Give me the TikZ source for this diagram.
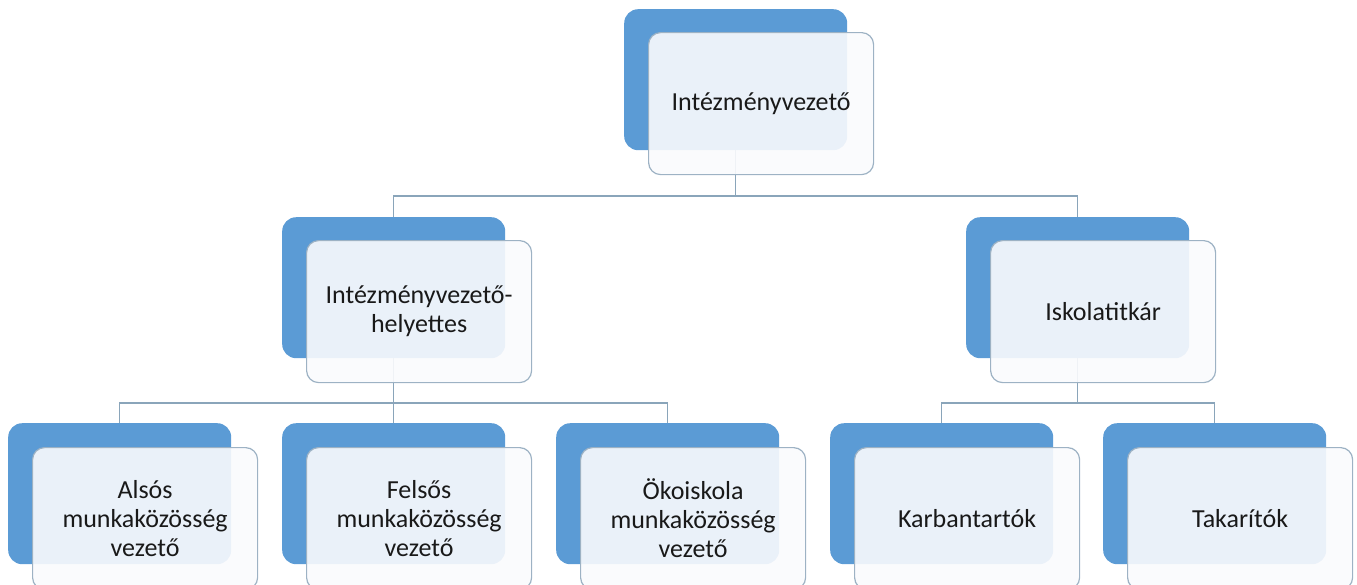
\documentclass[tikz,border=0pt]{standalone}
\usepackage{fontspec}
\setmainfont{Carlito}
\definecolor{backblue}{HTML}{5B9BD5}
\definecolor{frontfill}{RGB}{250,251,253}
\definecolor{frontline}{HTML}{9DB2C4}
\definecolor{connc}{HTML}{8AA5BA}
\tikzset{
  backbox/.style={fill=backblue, draw=none, rounded corners=14pt, minimum width=223pt, minimum height=141pt, anchor=north west, inner sep=0pt},
  frontbox/.style={fill=frontfill, fill opacity=0.9, text opacity=1, draw=frontline, line width=1.2pt, rounded corners=12pt, minimum width=225pt, minimum height=142pt, anchor=north west, inner sep=0pt, align=center, font=\fontsize{26}{29}\selectfont, text=black!90},
  connline/.style={draw=connc, line width=1.5pt}
}
\begin{document}
\begin{tikzpicture}[x=1pt,y=-1pt]
\useasboundingbox (0,0) rectangle (1357,584);
% back boxes
\node[backbox] (t0) at (624,9) {};
\node[backbox] (m1) at (282,217) {};
\node[backbox] (m2) at (966,217) {};
\node[backbox] (l1) at (8,423) {};
\node[backbox] (l2) at (282,423) {};
\node[backbox] (l3) at (556,423) {};
\node[backbox] (r1) at (830,423) {};
\node[backbox] (r2) at (1103,423) {};
% connectors
\coordinate (busA) at (0,196);
\coordinate (busB) at (0,403);
\draw[connline] (t0.south) -- (t0.south |- busA);
\draw[connline] (m1.north) |- (m2.north |- busA) -- (m2.north);
\draw[connline] (m1.south) -- (m1.south |- busB);
\draw[connline] (l1.north) |- (l3.north |- busB) -- (l3.north);
\draw[connline] (l2.north) -- (l2.north |- busB);
\draw[connline] (m2.south) -- (m2.south |- busB);
\draw[connline] (r1.north) |- (r2.north |- busB) -- (r2.north);
% front boxes
\node[frontbox] (ft0) at (648,32) {Intézményvezető};
\node[frontbox] (fm1) at (306,240) {Intézményvezető-\\helyettes};
\node[frontbox] (fm2) at (990,240) {Iskolatitkár};
\node[frontbox] (fl1) at (32,447) {Alsós\\munkaközösség\\vezető};
\node[frontbox] (fl2) at (306,447) {Felsős\\munkaközösség\\vezető};
\node[frontbox] (fl3) at (580,447) {Ökoiskola\\munkaközösség\\vezető};
\node[frontbox] (fr1) at (854,447) {Karbantartók};
\node[frontbox] (fr2) at (1127,447) {Takarítók};
\end{tikzpicture}
\end{document}
